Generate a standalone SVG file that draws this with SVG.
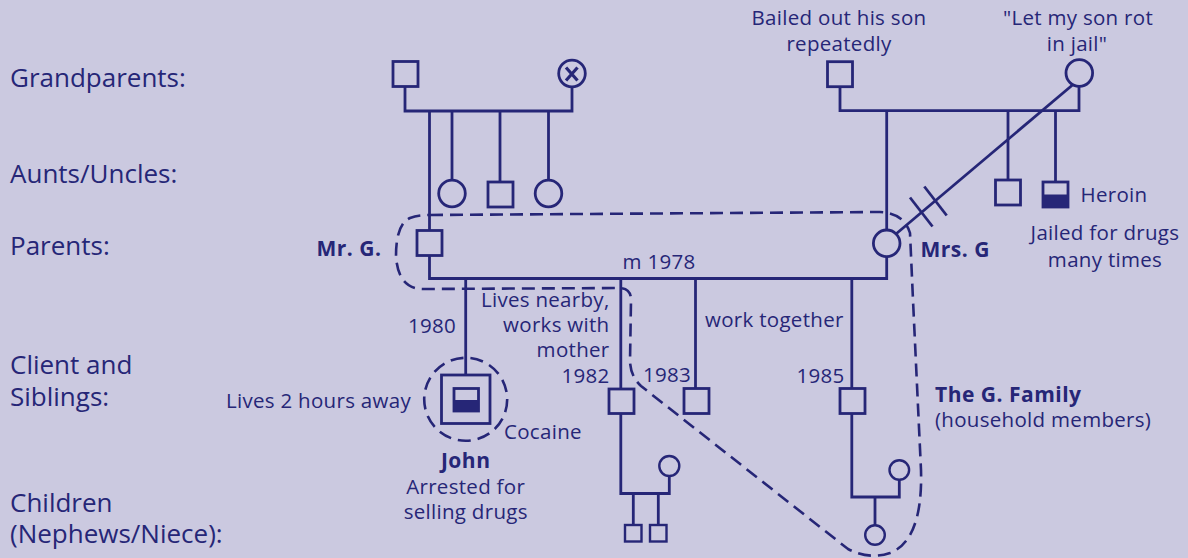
<svg xmlns="http://www.w3.org/2000/svg" width="1188" height="558" viewBox="0 0 1188 558">
<style>
  .ln{stroke:#262677;stroke-width:2.8;fill:none;stroke-linecap:butt}
  .sym{stroke:#262677;stroke-width:2.8;fill:#cbc9e0}
  .sm{stroke:#262677;stroke-width:2.4;fill:#cbc9e0}
  .fill{fill:#262677;stroke:none}
  .dash{stroke:#262677;stroke-width:2.6;fill:none;stroke-dasharray:13 7}
  text{font-family:"Open Sans","Noto Sans","Liberation Sans",sans-serif;fill:#262677}
  .lab{font-size:26px}
  .t{font-size:20.5px;letter-spacing:0.3px}
  .b{font-size:21px;font-weight:bold;letter-spacing:0.5px}
</style>
<rect x="0" y="0" width="1188" height="558" fill="#cbc9e0"/>

<g id="generation-labels">
  <text class="lab" x="10" y="87">Grandparents:</text>
  <text class="lab" x="10" y="183">Aunts/Uncles:</text>
  <text class="lab" x="10" y="255">Parents:</text>
  <text class="lab" x="10" y="374">Client and</text>
  <text class="lab" x="10" y="406">Siblings:</text>
  <text class="lab" x="10" y="512">Children</text>
  <text class="lab" x="10" y="543">(Nephews/Niece):</text>
</g>

<g id="household-boundary">
  <path class="dash" d="M430,215 L880,212 Q904,213 910,233 L913,300 L921,470 Q923,540 890,553 Q870,560 848,549 L641,386 Q631,377 630,362 L631,300 Q631,288 619,288 L425,289 Q398,290 396,256 Q396,224 410,218 Q418,215 430,215"/>
</g>

<g id="connectors">
  <path class="ln" d="M405,86 V111 H572 V87"/>
  <path class="ln" d="M429.5,111 V230.5"/>
  <path class="ln" d="M452,111 V180"/>
  <path class="ln" d="M500,111 V182"/>
  <path class="ln" d="M548.5,111 V180"/>
  <path class="ln" d="M840,86.5 V110.7 H1079 V86.5"/>
  <path class="ln" d="M886.7,110.7 V230"/>
  <path class="ln" d="M1008,110.7 V180"/>
  <path class="ln" d="M1055.5,110.7 V182"/>
  <path class="ln" d="M429.5,255.5 V278.5 H886.7 V256.5"/>
  <path class="ln" d="M465.7,278.5 V375"/>
  <path class="ln" d="M620.8,278.5 V389"/>
  <path class="ln" d="M695.5,278.5 V388.5"/>
  <path class="ln" d="M851.8,278.5 V388.5"/>
  <path class="ln" d="M620.8,413.5 V493.5 H669.3 V476"/>
  <path class="ln" d="M633.3,493.5 V525"/>
  <path class="ln" d="M658.3,493.5 V525"/>
  <path class="ln" d="M851.8,413.5 V497 H899.3 V480"/>
  <path class="ln" d="M875,497 V525"/>
  <path class="ln" d="M1072.5,85 L896.5,233.5"/>
  <path class="ln" d="M910,197.5 L932.5,226.5"/>
  <path class="ln" d="M924.3,186.5 L946.7,215.5"/>
</g>

<g id="pgf"><rect class="sym" x="393" y="61.5" width="25" height="25"/></g>
<g id="pgm"><circle class="sym" cx="572" cy="73.5" r="13.3"/>
  <path d="M566,67.5 L577.5,80.5 M577.5,67.5 L566,80.5" stroke="#262677" stroke-width="3.2" fill="none"/></g>
<g id="mgf"><rect class="sym" x="827.5" y="61.7" width="25" height="25"/></g>
<g id="mgm"><circle class="sym" cx="1079.3" cy="73" r="13.3"/></g>

<g id="aunt1"><circle class="sym" cx="452" cy="193.5" r="13.3"/></g>
<g id="uncle1"><rect class="sym" x="488" y="182" width="25" height="25"/></g>
<g id="aunt2"><circle class="sym" cx="548.5" cy="193.5" r="13.3"/></g>
<g id="uncle2"><rect class="sym" x="995.5" y="180" width="25" height="25"/></g>
<g id="uncle3"><rect class="sym" x="1043" y="182" width="25" height="25"/>
  <rect class="fill" x="1043" y="194.5" width="25" height="12.5"/></g>

<g id="mr-g"><rect class="sym" x="417" y="230.5" width="25" height="25"/></g>
<g id="mrs-g"><circle class="sym" cx="886.7" cy="243.3" r="13.3"/></g>

<g id="john">
  <circle cx="465.7" cy="399.3" r="41.5" class="dash"/>
  <rect class="sym" x="441.5" y="375" width="48.5" height="48.5"/>
  <rect class="sym" x="454" y="388.5" width="24.5" height="22.5" stroke-width="2.4"/>
  <rect class="fill" x="454" y="400" width="24.5" height="11"/>
</g>
<g id="sib1982"><rect class="sym" x="609" y="389" width="25" height="24.5"/></g>
<g id="sib1983"><rect class="sym" x="684" y="388.5" width="25" height="25"/></g>
<g id="sib1985"><rect class="sym" x="840" y="388.5" width="25" height="25"/></g>
<g id="wife1982"><circle class="sm" cx="669.3" cy="466" r="10"/></g>
<g id="child1"><rect class="sm" x="625" y="525" width="16.5" height="16.5"/></g>
<g id="child2"><rect class="sm" x="650" y="525" width="16.5" height="16.5"/></g>
<g id="wife1985"><circle class="sm" cx="899.3" cy="470" r="9.8"/></g>
<g id="child3"><circle class="sm" cx="875" cy="535" r="9.8"/></g>

<g id="annotations">
  <text class="t" x="839" y="25" text-anchor="middle">Bailed out his son</text>
  <text class="t" x="839" y="51" text-anchor="middle">repeatedly</text>
  <text class="t" x="1078" y="25" text-anchor="middle">"Let my son rot</text>
  <text class="t" x="1077" y="51" text-anchor="middle">in jail"</text>
  <text class="t" x="1080.5" y="201.5">Heroin</text>
  <text class="t" x="1105" y="240" text-anchor="middle">Jailed for drugs</text>
  <text class="t" x="1105" y="266.5" text-anchor="middle">many times</text>
  <text class="b" x="381.5" y="255.5" text-anchor="end">Mr. G.</text>
  <text class="b" x="920.5" y="257.3">Mrs. G</text>
  <text class="t" x="622.5" y="268.5">m 1978</text>
  <text class="t" x="456" y="333.3" text-anchor="end">1980</text>
  <text class="t" x="609.5" y="306.7" text-anchor="end">Lives nearby,</text>
  <text class="t" x="609.5" y="331.7" text-anchor="end">works with</text>
  <text class="t" x="609.5" y="357" text-anchor="end">mother</text>
  <text class="t" x="609.5" y="383.3" text-anchor="end">1982</text>
  <text class="t" x="643" y="382">1983</text>
  <text class="t" x="705" y="326.7">work together</text>
  <text class="t" x="844.5" y="382.7" text-anchor="end">1985</text>
  <text class="t" x="411" y="407.5" text-anchor="end">Lives 2 hours away</text>
  <text class="t" x="504" y="439.3">Cocaine</text>
  <text class="b" x="465.7" y="468.3" text-anchor="middle">John</text>
  <text class="t" x="465.7" y="494" text-anchor="middle">Arrested for</text>
  <text class="t" x="465.7" y="519.3" text-anchor="middle">selling drugs</text>
  <text class="b" x="935" y="401.7">The G. Family</text>
  <text class="t" x="935" y="427.3">(household members)</text>
</g>
</svg>
